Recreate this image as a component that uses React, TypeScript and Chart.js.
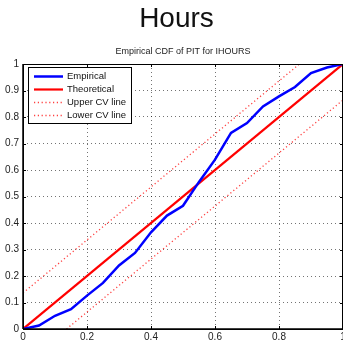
import React, { useEffect, useRef } from "react";
import { Chart, registerables } from "chart.js";

Chart.register(...registerables);

const mainTitle = "Hours";
const subTitle = "Empirical CDF of PIT for IHOURS";
const xTickLabels = ["0", "0.2", "0.4", "0.6", "0.8", "1"];
const pitX = [0, 0.05, 0.1, 0.15, 0.2, 0.25, 0.3, 0.35, 0.4, 0.45, 0.5, 0.55, 0.6, 0.65, 0.7, 0.75, 0.8, 0.85, 0.9, 0.95, 1.0];
const empiricalY = [0, 0.013, 0.05, 0.075, 0.126, 0.174, 0.24, 0.287, 0.365, 0.428, 0.465, 0.555, 0.639, 0.74, 0.777, 0.84, 0.878, 0.913, 0.966, 0.987, 1.0];
const theoreticalX = [0, 1];
const theoreticalY = [0, 1];
const criticalValue = 0.136;
const upperX = [0, 1 - criticalValue];
const upperY = [criticalValue, 1];
const lowerX = [criticalValue, 1];
const lowerY = [0, 1 - criticalValue];
const legendLabels = ["Empirical", "Theoretical", "Upper CV line", "Lower CV line"];

const FONT = "'Liberation Sans', Arial, sans-serif";

const framePlugin = {
  id: "frame",
  afterDraw(chart: any) {
    const { ctx, chartArea } = chart;
    const { left, top, right, bottom } = chartArea;
    ctx.save();
    ctx.strokeStyle = "#000";
    ctx.lineWidth = 1;
    ctx.setLineDash([]);
    ctx.strokeRect(left + 0.5, top + 0.5, right - left - 1, bottom - top);
    ctx.lineWidth = 1.5;
    ctx.beginPath();
    ctx.moveTo(left, bottom);
    ctx.lineTo(right, bottom);
    ctx.moveTo(left, top);
    ctx.lineTo(left, bottom);
    ctx.stroke();
    ctx.lineWidth = 1;
    const xs = chart.scales.x;
    const ys = chart.scales.y;
    ctx.beginPath();
    xs.ticks.forEach((t: any) => {
      const px = Math.round(xs.getPixelForValue(t.value)) + 0.5;
      ctx.moveTo(px, bottom);
      ctx.lineTo(px, bottom - 3);
      ctx.moveTo(px, top);
      ctx.lineTo(px, top + 3);
    });
    ys.ticks.forEach((t: any) => {
      const py = Math.round(ys.getPixelForValue(t.value)) + 0.5;
      ctx.moveTo(left, py);
      ctx.lineTo(left + 3, py);
      ctx.moveTo(right, py);
      ctx.lineTo(right - 3, py);
    });
    ctx.stroke();
    ctx.fillStyle = "#222";
    ctx.font = `9px ${FONT}`;
    ctx.textAlign = "center";
    ctx.textBaseline = "middle";
    ctx.fillText(subTitle, (left + right) / 2, 52);
    const lx = 28, ly = 67, lw = 103, lh = 56;
    ctx.fillStyle = "#fff";
    ctx.fillRect(lx, ly, lw, lh);
    ctx.strokeStyle = "#000";
    ctx.lineWidth = 1;
    ctx.strokeRect(lx + 0.5, ly + 0.5, lw, lh);
    const rows = [76.5, 89.5, 102.5, 115.5];
    chart.data.datasets.forEach((ds: any, i: number) => {
      const y = rows[i];
      ctx.save();
      ctx.strokeStyle = ds.borderColor;
      ctx.lineWidth = ds.borderWidth;
      ctx.setLineDash(ds.borderDash || []);
      ctx.beginPath();
      ctx.moveTo(34, y);
      ctx.lineTo(63, y);
      ctx.stroke();
      ctx.restore();
      ctx.fillStyle = "#111";
      ctx.font = `9.5px ${FONT}`;
      ctx.textAlign = "left";
      ctx.textBaseline = "middle";
      ctx.fillText(ds.label, 67, y);
    });
    ctx.restore();
  },
};

function toPoints(xs: number[], ys: number[]) {
  return xs.map((x, i) => ({ x, y: ys[i] }));
}

export default function App() {
  const ref = useRef<HTMLCanvasElement | null>(null);
  useEffect(() => {
    if (!ref.current) return;
    const chart = new Chart(ref.current, {
      type: "line",
      data: {
        datasets: [
          {
            label: legendLabels[0],
            data: toPoints(pitX, empiricalY),
            borderColor: "#0000ff",
            borderWidth: 2.5,
            pointRadius: 0,
            tension: 0,
          },
          {
            label: legendLabels[1],
            data: toPoints(theoreticalX, theoreticalY),
            borderColor: "#ff0000",
            borderWidth: 2.2,
            pointRadius: 0,
          },
          {
            label: legendLabels[2],
            data: toPoints(upperX, upperY),
            borderColor: "rgba(255,30,30,0.85)",
            borderWidth: 1.3,
            borderDash: [1.2, 2.6],
            pointRadius: 0,
          },
          {
            label: legendLabels[3],
            data: toPoints(lowerX, lowerY),
            borderColor: "rgba(255,30,30,0.85)",
            borderWidth: 1.3,
            borderDash: [1.2, 2.6],
            pointRadius: 0,
          },
        ],
      } as any,
      options: {
        animation: false,
        responsive: false,
        layout: { padding: { top: 64, right: 17, left: 0, bottom: 0 } },
        plugins: { legend: { display: false }, title: { display: false }, tooltip: { enabled: false } },
        scales: {
          x: {
            type: "linear",
            min: 0,
            max: 1,
            ticks: {
              stepSize: 0.2,
              padding: 2,
              color: "#222",
              font: { family: FONT, size: 10 },
              maxRotation: 0,
              callback: (v: any) => {
                const i = Math.round(Number(v) / 0.2);
                return xTickLabels[i] ?? "";
              },
            },
            grid: { color: "rgba(0,0,0,0.55)", lineWidth: 1, drawTicks: false },
            border: { display: false, dash: [1, 3] },
            afterFit: (s: any) => {
              s.height = 14;
            },
          },
          y: {
            type: "linear",
            min: 0,
            max: 1,
            ticks: {
              stepSize: 0.1,
              padding: 4,
              color: "#222",
              font: { family: FONT, size: 10 },
              callback: (v: any) => String(Math.round(Number(v) * 10) / 10),
            },
            grid: { color: "rgba(0,0,0,0.55)", lineWidth: 1, drawTicks: false },
            border: { display: false, dash: [1, 3] },
            afterFit: (s: any) => {
              s.width = 23;
            },
          },
        },
      },
      plugins: [framePlugin],
    } as any);
    return () => chart.destroy();
  }, []);

  return (
    <div style={{ position: "fixed", left: 0, top: 0, width: 343, height: 343, overflow: "hidden", background: "#fff" }}>
      <canvas ref={ref} width={360} height={343} style={{ position: "absolute", left: 0, top: 0 }} />
      <div
        style={{
          position: "absolute",
          left: 0,
          top: 0,
          width: 353,
          textAlign: "center",
          fontFamily: FONT,
          fontSize: 28,
          lineHeight: "36px",
          color: "#111",
        }}
      >
        {mainTitle}
      </div>
    </div>
  );
}
